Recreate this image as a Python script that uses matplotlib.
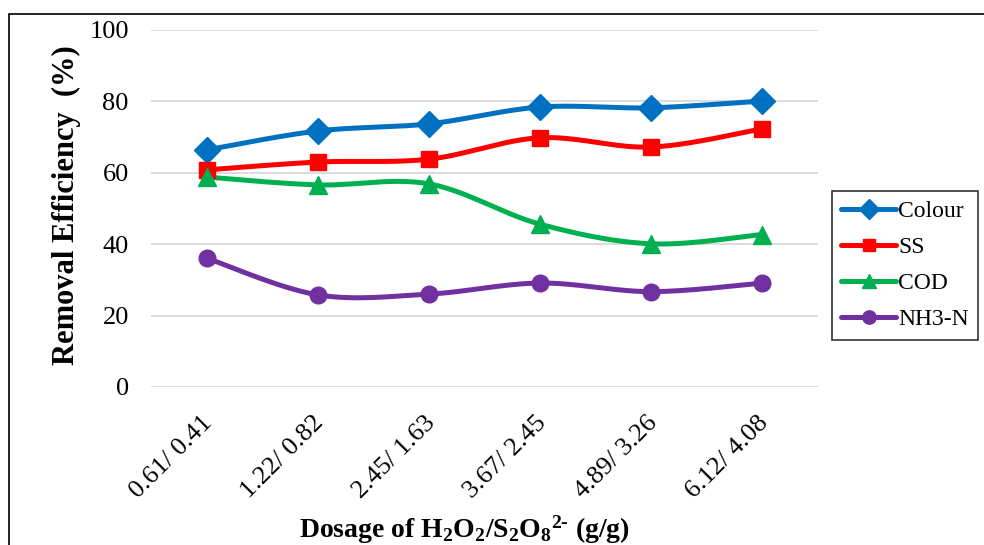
import numpy as np
import matplotlib
matplotlib.use("Agg")
import matplotlib.pyplot as plt
import matplotlib.transforms as mtransforms
from matplotlib.patches import Rectangle

plt.rcParams['font.family'] = ['Liberation Serif', 'DejaVu Serif']
plt.rcParams['mathtext.fontset'] = 'custom'
plt.rcParams['mathtext.rm'] = 'Liberation Serif:bold'
plt.rcParams['mathtext.bf'] = 'Liberation Serif:bold'
plt.rcParams['mathtext.it'] = 'Liberation Serif:bold'
plt.rcParams['mathtext.default'] = 'bf'

categories = ["0.61/ 0.41", "1.22/ 0.82", "2.45/ 1.63", "3.67/ 2.45", "4.89/ 3.26", "6.12/ 4.08"]
colour = [66.4, 71.7, 73.7, 78.4, 78.2, 80.1]
ss = [60.8, 63.0, 63.8, 69.8, 67.2, 72.3]
cod = [58.8, 56.6, 56.9, 45.6, 40.1, 42.7]
nh3n = [36.1, 25.8, 26.0, 29.1, 26.7, 29.1]

series = [
    ("Colour", colour, "#0070C0", "D", 13),
    ("SS", ss, "#FF0000", "s", 11),
    ("COD", cod, "#00B050", "^", 13),
    ("NH3-N", nh3n, "#7030A0", "o", 12),
]


def smooth(x, y, n=30):
    # Catmull-Rom style Bezier smoothing (like spreadsheet smoothed lines)
    x = np.asarray(x, float)
    y = np.asarray(y, float)
    px = np.concatenate([[x[0]], x, [x[-1]]])
    py = np.concatenate([[y[0]], y, [y[-1]]])
    xs, ys = [], []
    t = np.linspace(0, 1, n)
    for i in range(1, len(px) - 2):
        p0 = np.array([px[i], py[i]])
        p3 = np.array([px[i + 1], py[i + 1]])
        p1 = p0 + (np.array([px[i + 1], py[i + 1]]) - np.array([px[i - 1], py[i - 1]])) / 6
        p2 = p3 - (np.array([px[i + 2], py[i + 2]]) - np.array([px[i], py[i]])) / 6
        b = ((1 - t) ** 3)[:, None] * p0 + (3 * (1 - t) ** 2 * t)[:, None] * p1 + \
            (3 * (1 - t) * t ** 2)[:, None] * p2 + (t ** 3)[:, None] * p3
        xs.extend(b[:, 0])
        ys.extend(b[:, 1])
    return np.array(xs), np.array(ys)


fig = plt.figure(figsize=(9.84, 5.45), dpi=100)
ax = fig.add_axes([0.1535, 0.290, 0.6775, 0.655])

x = np.arange(len(categories))
handles = []
for name, vals, c, m, ms in series:
    sx, sy = smooth(x, vals)
    ax.plot(sx, sy, color=c, lw=3.6, solid_capstyle='round', zorder=3)
    ax.plot(x, vals, linestyle='none', marker=m, ms=ms, color=c, zorder=4)
    h, = ax.plot([], [], color=c, lw=3.6, marker=m, ms=ms * 0.8, solid_capstyle='round')
    handles.append((h, name))

ax.set_xlim(-0.5, len(categories) - 0.5)
ax.set_ylim(0, 100)
ax.set_yticks([0, 20, 40, 60, 80, 100])
ax.yaxis.grid(True, color='#D9D9D9', lw=1.3)
ax.set_axisbelow(True)
for s in ax.spines.values():
    s.set_visible(False)
ax.tick_params(axis='both', length=0)
ax.tick_params(axis='y', labelsize=19, pad=16)
ax.set_xticks(x)
ax.set_xticklabels(categories, rotation=45, ha='right', va='top', rotation_mode='anchor', fontsize=19)
ax.tick_params(axis='x', pad=18)
offset = mtransforms.ScaledTranslation(-5 / 100, 0, fig.dpi_scale_trans)
for lab in ax.get_xticklabels():
    lab.set_transform(lab.get_transform() + offset)

fig.text(66 / 984, 1 - 205 / 545, "Removal Efficiency  (%)", fontsize=22, fontweight='bold',
         rotation=90, ha='center', va='center')
fig.text(464 / 984, 1 - 530 / 545, r"Dosage of H$_2$O$_2$/S$_2$O$_8$$^{2\text{-}}$ (g/g)", fontsize=20,
         fontweight='bold', ha='center', va='center')

leg = fig.legend([h for h, _ in handles], [n for _, n in handles],
                 loc='upper left', bbox_to_anchor=(832 / 984, 1 - 191 / 545),
                 fontsize=17, frameon=True, fancybox=False, edgecolor='black',
                 handlelength=2.3, handletextpad=0.1, labelspacing=0.62,
                 borderpad=0.4, borderaxespad=0)
leg.get_frame().set_linewidth(1.2)

fig.patches.append(Rectangle((9 / 984, -0.05), 1.2, 1 - 14 / 545 + 0.05, transform=fig.transFigure,
                             fill=False, edgecolor='black', lw=1.2, zorder=10))

fig.savefig("out.png", dpi=100)
